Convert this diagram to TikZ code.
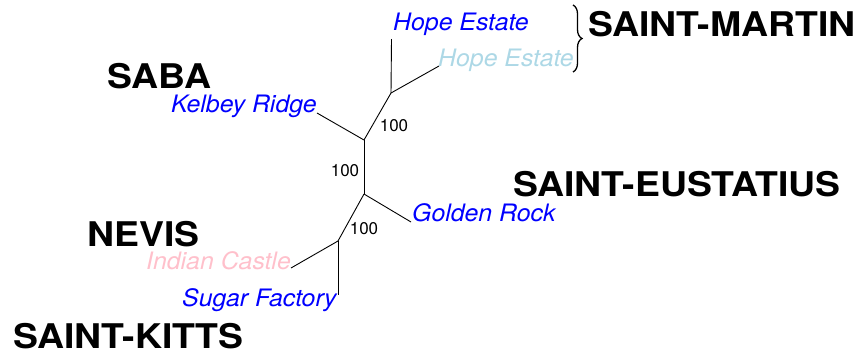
\documentclass[tikz,border=0pt]{standalone}
\usepackage{fontspec}
\setmainfont{TeX Gyre Heros}
\usetikzlibrary{decorations.pathreplacing}
\definecolor{tblue}{RGB}{0,0,255}
\definecolor{tlblue}{RGB}{173,216,230}
\definecolor{tpink}{RGB}{255,192,203}
\newcommand{\wideI}[1]{\scalebox{1.035}[1]{#1}}
\newcommand{\wideB}[1]{\scalebox{1.1}[1]{#1}}
\begin{document}
\begin{tikzpicture}[x=1pt,y=-1pt,
  taxon/.style={font=\fontsize{24}{28}\selectfont\itshape, inner sep=0pt, anchor=base west},
  island/.style={font=\fontsize{34}{40}\selectfont\bfseries, inner sep=0pt, anchor=base west},
  boot/.style={font=\fontsize{17}{20}\selectfont, inner sep=0pt},
  branch/.style={line width=0.9pt, black}]
\useasboundingbox (0,0) rectangle (858,354);
% tree nodes
\coordinate (n1) at (391,93);
\coordinate (n2) at (364,140);
\coordinate (n3) at (364,194);
\coordinate (n4) at (338,241);
\coordinate (tHEa) at (391.5,39);
\coordinate (tHEb) at (439,66);
\coordinate (tKR) at (317,113);
\coordinate (tGR) at (411,222);
\coordinate (tIC) at (291,268);
\coordinate (tSF) at (338,295);
% branches
\draw[branch] (n1) -- (tHEa);
\draw[branch] (n1) -- (tHEb);
\draw[branch] (n2) -- (n1);
\draw[branch] (n2) -- (tKR);
\draw[branch] (n2) -- (n3);
\draw[branch] (n3) -- (tGR);
\draw[branch] (n3) -- (n4);
\draw[branch] (n4) -- (tIC);
\draw[branch] (n4) -- (tSF);
% taxa
\node[taxon, text=tblue] (lHEa) at (393,30.7) {\wideI{Hope Estate}};
\node[taxon, text=tlblue] (lHEb) at (438,66.7) {\wideI{Hope Estate}};
\node[taxon, text=tblue] (lKR) at (171,112.7) {\wideI{Kelbey Ridge}};
\node[taxon, text=tblue] (lGR) at (412,221.7) {\wideI{Golden Rock}};
\node[taxon, text=tpink] (lIC) at (146,269) {\wideI{Indian Castle}};
\node[taxon, text=tblue] (lSF) at (182,306.7) {\wideI{Sugar Factory}};
% bootstrap
\node[boot] (b1) at (394,125.5) {100};
\node[boot] (b2) at (345,171) {100};
\node[boot] (b3) at (364,229) {100};
% islands
\node[island] (iSM) at (588,36.7) {\wideB{SAINT-MARTIN}};
\node[island] (iSA) at (107,88.3) {\wideB{SABA}};
\node[island] (iSE) at (513,196) {\wideB{SAINT-EUSTATIUS}};
\node[island] (iNE) at (87,246) {\wideB{NEVIS}};
\node[island] (iSK) at (13,348.5) {\wideB{SAINT-KITTS}};
% brace
\coordinate (brT) at (573,5);
\coordinate (brB) at (573,72);
\draw[line width=1.3pt, decorate, decoration={brace, amplitude=9pt}] (brT) -- (brB);
\end{tikzpicture}
\end{document}
